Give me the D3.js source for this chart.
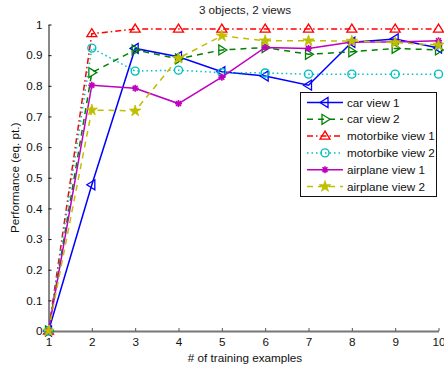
<!DOCTYPE html>
<html>
<head>
<meta charset="utf-8">
<script src="https://cdn.jsdelivr.net/npm/d3@7"></script>
<style>
  html, body { margin: 0; padding: 0; background: #fff; }
  svg { display: block; font-family: "Liberation Sans", Arial, sans-serif; }
</style>
</head>
<body>
<svg id="chart" width="444" height="367"></svg>
<script>
// Training-set size on the x axis
const examples = [1, 2, 3, 4, 5, 6, 7, 8, 9, 10];

// Performance (equal-error point) per object / view
const carView1       = [0, 0.477, 0.922, 0.895, 0.846, 0.832, 0.802, 0.942, 0.953, 0.923];
const carView2       = [0, 0.843, 0.917, 0.888, 0.917, 0.925, 0.903, 0.911, 0.922, 0.917];
const motorbikeView1 = [0, 0.970, 0.985, 0.985, 0.985, 0.985, 0.985, 0.985, 0.985, 0.985];
const motorbikeView2 = [0, 0.923, 0.848, 0.851, 0.843, 0.842, 0.838, 0.838, 0.838, 0.838];
const airplaneView1  = [0, 0.802, 0.792, 0.742, 0.828, 0.925, 0.922, 0.943, 0.943, 0.947];
const airplaneView2  = [0, 0.721, 0.718, 0.890, 0.963, 0.947, 0.947, 0.946, 0.941, 0.933];

const seriesNames = ["car view 1", "car view 2", "motorbike view 1", "motorbike view 2", "airplane view 1", "airplane view 2"];
const seriesValues = [carView1, carView2, motorbikeView1, motorbikeView2, airplaneView1, airplaneView2];

const yTicks = [0, 0.1, 0.2, 0.3, 0.4, 0.5, 0.6, 0.7, 0.8, 0.9, 1];

const styles = [
  { color: "#0000ff", dash: null,        marker: "triLeft"  },
  { color: "#008000", dash: "6,5",       marker: "triRight" },
  { color: "#ff0000", dash: "6,3,1.5,3", marker: "triUp"    },
  { color: "#00bfbf", dash: "1.5,3",     marker: "circle"   },
  { color: "#bf00bf", dash: null,        marker: "asterisk" },
  { color: "#bfbf00", dash: "6,5",       marker: "star"     }
];

const FS = 11.7;
const svg = d3.select("#chart");
const margin = { left: 48.5, right: 5.5, top: 24.5, bottom: 36 };
const W = 444, H = 367;

const x = d3.scaleLinear().domain([1, 10]).range([margin.left, W - margin.right]);
const y = d3.scaleLinear().domain([0, 1]).range([H - margin.bottom, margin.top]);

// Title
svg.append("text").attr("x", 245).attr("y", 14)
  .attr("text-anchor", "middle").attr("font-size", FS).attr("fill", "#222")
  .text("3 objects, 2 views");

// Axes (inward ticks)
const gx = svg.append("g").attr("transform", `translate(0,${y(0)})`)
  .call(d3.axisBottom(x).tickValues(examples).tickFormat(d3.format("d")).tickSizeInner(-3).tickSizeOuter(0).tickPadding(7));
gx.select(".domain").attr("stroke", "#777").attr("stroke-width", 2);
gx.selectAll(".tick line").attr("stroke", "#555");
gx.selectAll("text").attr("font-size", FS).attr("fill", "#111").attr("font-family", "Liberation Sans, Arial, sans-serif");

const gy = svg.append("g").attr("transform", `translate(${x(1)},0)`)
  .call(d3.axisLeft(y).tickValues(yTicks).tickFormat(d => d === 0 ? "0" : d === 1 ? "1" : d3.format(".1f")(d)).tickSizeInner(-3).tickSizeOuter(0).tickPadding(6));
gy.select(".domain").attr("stroke", "#111").attr("stroke-width", 1);
gy.selectAll(".tick line").attr("stroke", "#111");
gy.selectAll("text").attr("font-size", FS).attr("fill", "#111").attr("font-family", "Liberation Sans, Arial, sans-serif");

// Axis labels
svg.append("text").attr("x", 245).attr("y", 362)
  .attr("text-anchor", "middle").attr("font-size", FS).attr("fill", "#111")
  .text("# of training examples");
svg.append("text").attr("transform", `translate(19,${(y(0) + y(1)) / 2}) rotate(-90)`)
  .attr("text-anchor", "middle").attr("font-size", FS).attr("fill", "#111")
  .text("Performance (eq. pt.)");

// Marker drawing
function drawMarker(g, type, color, cx, cy) {
  const s = 5;
  if (type === "triLeft") {
    g.append("path").attr("d", `M${cx - s},${cy}L${cx + s * 0.6},${cy - s}L${cx + s * 0.6},${cy + s}Z`)
      .attr("fill", "none").attr("stroke", color).attr("stroke-width", 1.3);
  } else if (type === "triRight") {
    g.append("path").attr("d", `M${cx + s},${cy}L${cx - s * 0.6},${cy - s}L${cx - s * 0.6},${cy + s}Z`)
      .attr("fill", "none").attr("stroke", color).attr("stroke-width", 1.3);
  } else if (type === "triUp") {
    g.append("path").attr("d", `M${cx},${cy - s}L${cx - s},${cy + s * 0.6}L${cx + s},${cy + s * 0.6}Z`)
      .attr("fill", "none").attr("stroke", color).attr("stroke-width", 1.3);
  } else if (type === "circle") {
    g.append("circle").attr("cx", cx).attr("cy", cy).attr("r", 4)
      .attr("fill", "none").attr("stroke", color).attr("stroke-width", 1.4);
  } else if (type === "asterisk") {
    for (let a = 0; a < 4; a++) {
      const ang = a * Math.PI / 4;
      g.append("line")
        .attr("x1", cx - 3.5 * Math.cos(ang)).attr("y1", cy - 3.5 * Math.sin(ang))
        .attr("x2", cx + 3.5 * Math.cos(ang)).attr("y2", cy + 3.5 * Math.sin(ang))
        .attr("stroke", color).attr("stroke-width", 1.6);
    }
    g.append("circle").attr("cx", cx).attr("cy", cy).attr("r", 2.2).attr("fill", color);
  } else if (type === "star") {
    g.append("path").attr("d", d3.symbol(d3.symbolStar, 40)())
      .attr("transform", `translate(${cx},${cy})`)
      .attr("fill", color).attr("stroke", color).attr("stroke-width", 0.8);
  }
}

const line = d3.line().x((d, i) => x(examples[i])).y(d => y(d));

const plot = svg.append("g");
seriesValues.forEach((vals, k) => {
  const st = styles[k];
  plot.append("path").datum(vals).attr("d", line)
    .attr("fill", "none").attr("stroke", st.color).attr("stroke-width", 1.5)
    .attr("stroke-dasharray", st.dash);
  const mg = plot.append("g");
  vals.forEach((v, i) => drawMarker(mg, st.marker, st.color, x(examples[i]), y(v)));
});

// Legend
const lg = svg.append("g");
lg.append("rect").attr("x", 300.5).attr("y", 92.5).attr("width", 136).attr("height", 104)
  .attr("fill", "#fff").attr("stroke", "#111").attr("stroke-width", 1);
seriesNames.forEach((name, k) => {
  const st = styles[k];
  const ly = 102.5 + k * 16.8;
  lg.append("line").attr("x1", 307).attr("x2", 343).attr("y1", ly).attr("y2", ly)
    .attr("stroke", st.color).attr("stroke-width", 1.5).attr("stroke-dasharray", st.dash);
  drawMarker(lg, st.marker, st.color, 325, ly);
  lg.append("text").attr("x", 347).attr("y", ly + 4).attr("font-size", FS).attr("fill", "#111")
    .text(name);
});
</script>
</body>
</html>
